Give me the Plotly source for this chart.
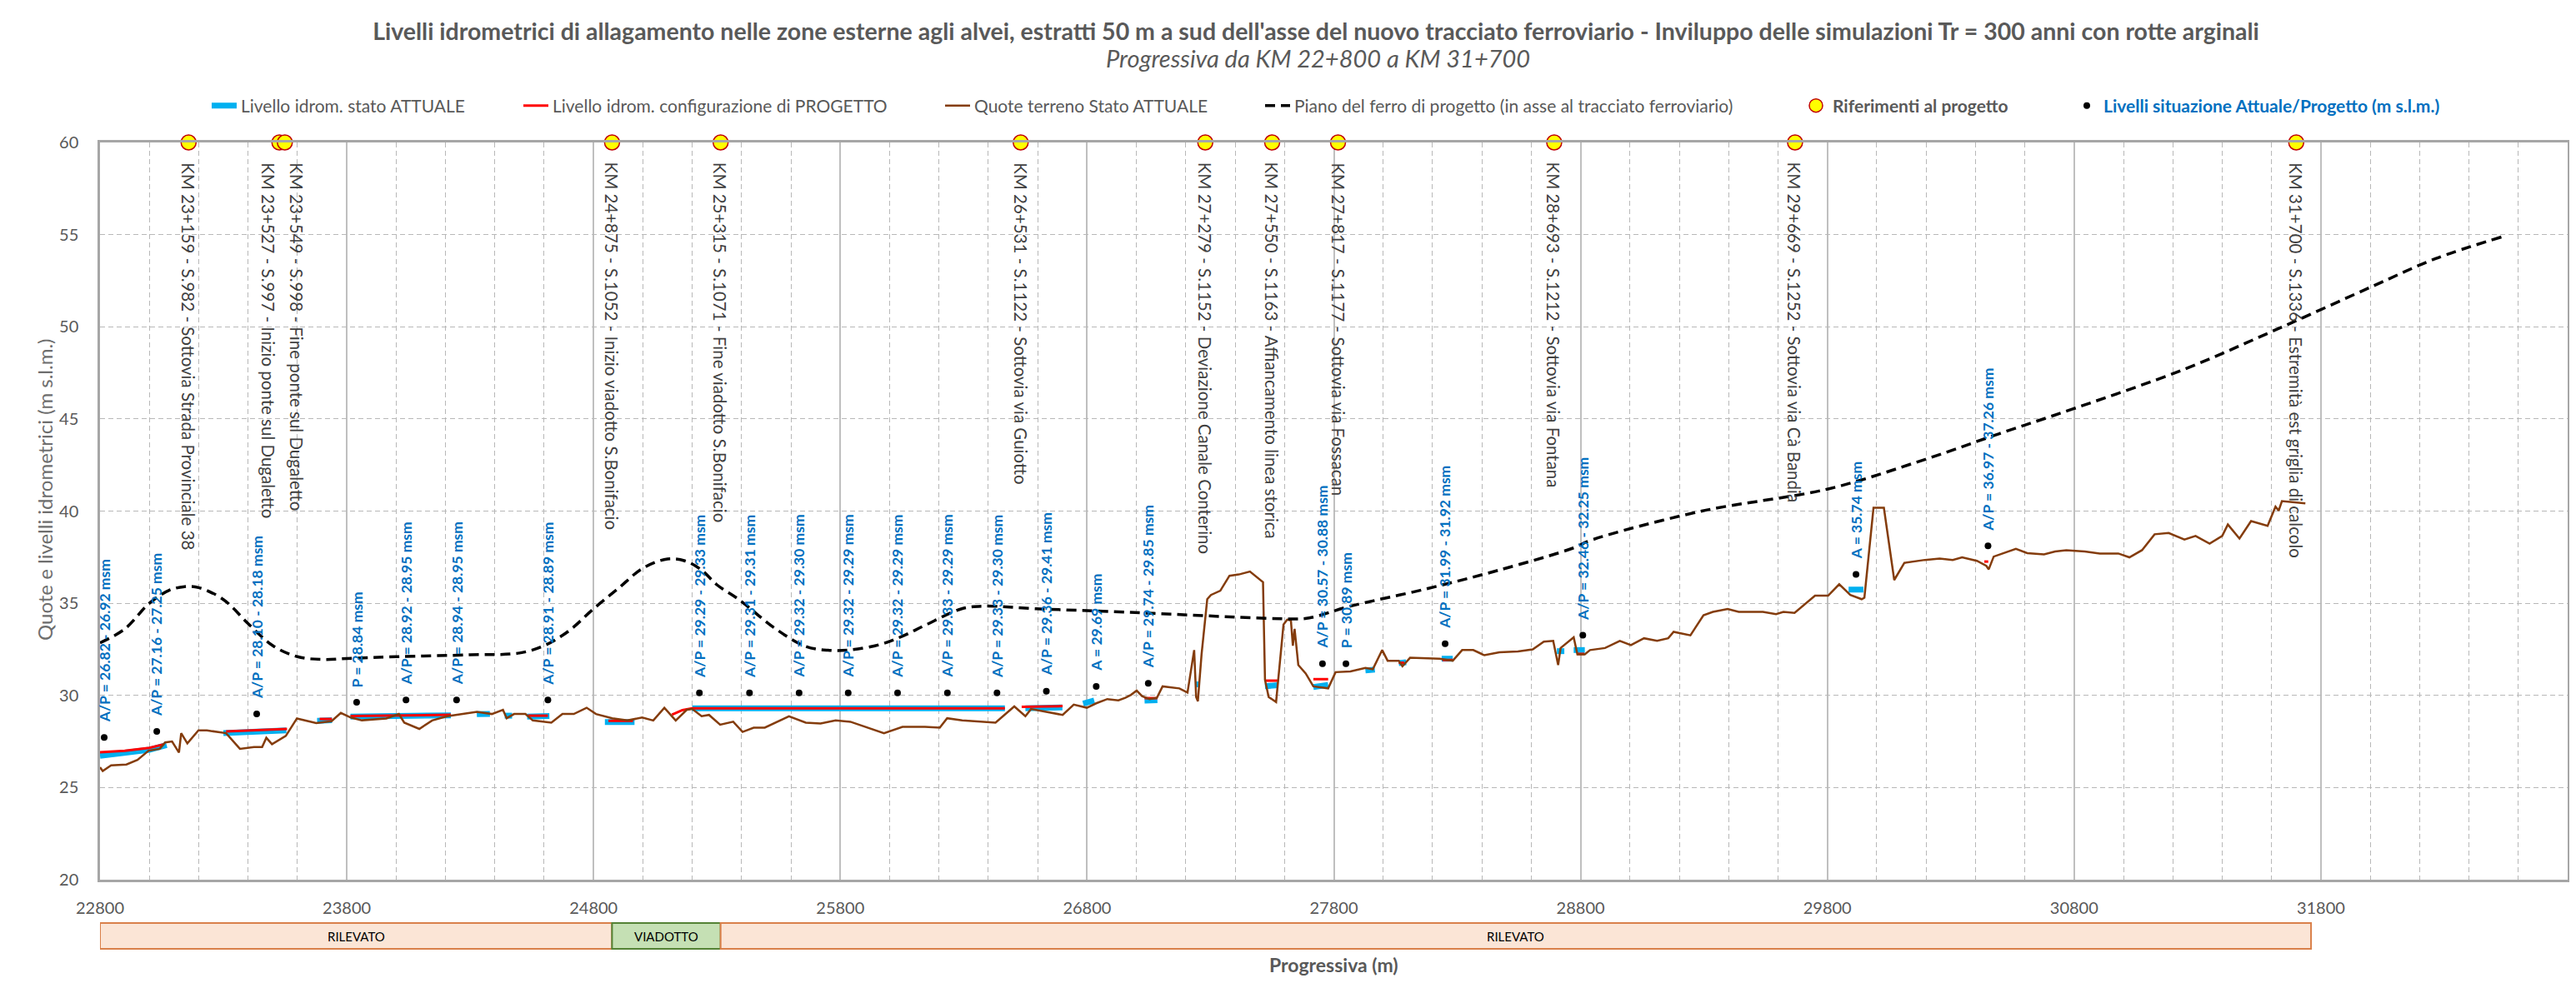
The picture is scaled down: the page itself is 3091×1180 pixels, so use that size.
import plotly.graph_objects as go

# ---------------- DATA ----------------
x_ticks = [22800, 23800, 24800, 25800, 26800, 27800, 28800, 29800, 30800, 31800, 32800]
y_ticks = [20, 25, 30, 35, 40, 45, 50, 55, 60]

# Quote terreno Stato ATTUALE
terrain_x = [22800, 22811, 22845, 22907, 22952, 22997, 23042, 23064, 23092, 23120, 23129, 23154, 23199, 23233,
             23311, 23367, 23424, 23457, 23474, 23497, 23553, 23598, 23676, 23738, 23776, 23816, 23861, 23960,
             24011, 24033, 24094, 24146, 24207, 24267, 24327, 24388, 24433, 24448, 24478, 24524, 24554, 24629,
             24674, 24720, 24772, 24810, 24876, 24937, 24997, 25042, 25087, 25133, 25178, 25200, 25238, 25268,
             25313, 25366, 25404, 25449, 25494, 25592, 25660, 25720, 25781, 25841, 25901, 25977, 26052, 26143,
             26203, 26233, 26294, 26369, 26429, 26505, 26550, 26573, 26641, 26701, 26746, 26799, 26837, 26882,
             26927, 26955, 26978, 27001, 27023, 27053, 27083, 27106, 27174, 27207, 27234, 27242, 27249, 27264,
             27287, 27302, 27340, 27377, 27415, 27460, 27513, 27521, 27536, 27566, 27596, 27611, 27626, 27634,
             27641, 27656, 27686, 27717, 27777, 27807, 27867, 27928, 27958, 27996, 28018, 28063, 28078, 28109,
             28229, 28282, 28320, 28365, 28410, 28471, 28546, 28606, 28651, 28689, 28709, 28719, 28772, 28787,
             28817, 28838, 28899, 28959, 29004, 29057, 29110, 29155, 29177, 29245, 29298, 29336, 29396, 29441,
             29539, 29592, 29622, 29667, 29750, 29803, 29848, 29893, 29939, 29950, 29987, 30029, 30071, 30112,
             30195, 30255, 30308, 30346, 30406, 30444, 30454, 30474, 30564, 30610, 30678, 30723, 30768, 30843,
             30904, 30979, 31024, 31075, 31126, 31183, 31247, 31292, 31349, 31400, 31423, 31470, 31517, 31584,
             31616, 31629, 31642, 31680, 31737]
terrain_y = [26.1, 25.9, 26.2, 26.25, 26.5, 27.0, 27.1, 27.45, 27.5, 26.9, 27.95, 27.4, 28.1, 28.1,
             27.95, 27.1, 27.2, 27.2, 27.7, 27.35, 27.8, 28.75, 28.5, 28.6, 29.05, 28.8, 28.65, 28.75,
             28.99, 28.52, 28.18, 28.64, 28.87, 28.99, 29.11, 28.99, 29.22, 28.76, 28.99, 28.99, 28.64, 28.52,
             28.99, 28.99, 29.33, 28.99, 28.76, 28.64, 28.80, 28.64, 29.33, 28.64, 29.22, 29.26, 28.87, 28.94,
             28.41, 28.57, 28.02, 28.25, 28.25, 28.87, 28.52, 28.48, 28.64, 28.57, 28.29, 27.95, 28.29, 28.29,
             28.25, 28.76, 28.64, 28.57, 28.52, 29.40, 28.87, 29.26, 29.10, 28.94, 29.50, 29.33, 29.57, 29.80,
             29.73, 29.87, 30.03, 30.26, 29.96, 29.80, 29.87, 30.49, 30.38, 30.15, 32.46, 29.91, 29.68, 32.23,
             35.22, 35.45, 35.68, 36.49, 36.56, 36.72, 36.14, 30.84, 29.91, 29.64, 33.84, 34.11, 34.07, 32.69,
             33.61, 31.65, 31.19, 30.49, 30.38, 31.26, 31.30, 31.49, 31.42, 32.46, 31.88, 31.88, 31.58, 32.04,
             31.99, 31.88, 32.46, 32.46, 32.18, 32.34, 32.38, 32.50, 32.92, 32.96, 31.65, 32.57, 33.15, 32.23,
             32.23, 32.46, 32.57, 32.96, 32.73, 33.10, 32.96, 33.10, 33.45, 33.26, 34.35, 34.53, 34.69, 34.53,
             34.53, 34.41, 34.53, 34.48, 35.41, 35.41, 36.03, 35.45, 35.22, 35.30, 40.18, 40.18, 36.26, 37.19,
             37.35, 37.42, 37.35, 37.49, 37.30, 37.03, 36.84, 37.53, 37.95, 37.72, 37.65, 37.81, 37.88, 37.81,
             37.70, 37.70, 37.49, 37.88, 38.74, 38.81, 38.46, 38.65, 38.23, 38.65, 39.27, 38.51, 39.46, 39.20,
             40.24, 40.03, 40.54, 40.49, 40.42]

# Piano del ferro di progetto
rail_x = [22800, 22900, 23000, 23080, 23143, 23200, 23300, 23400, 23500, 23600, 23700, 23800, 24000, 24300,
          24500, 24600, 24700, 24800, 24900, 25000, 25100, 25170, 25238, 25300, 25389, 25539, 25661, 25750,
          25841, 25961, 26050, 26143, 26292, 26383, 26595, 26897, 27150, 27400, 27626, 27700, 27867, 28169,
          28470, 28771, 28838, 29291, 29803, 30195, 30497, 30797, 31247, 31628, 32010, 32265, 32539]
rail_y = [32.85, 33.6, 35.0, 35.7, 35.9, 35.85, 35.2, 33.9, 32.7, 32.1, 31.95, 32.0, 32.1, 32.2,
          32.3, 32.7, 33.5, 34.7, 35.8, 36.9, 37.4, 37.3, 36.8, 36.0, 35.2, 33.6, 32.65, 32.45,
          32.47, 32.76, 33.2, 33.8, 34.7, 34.84, 34.7, 34.55, 34.4, 34.25, 34.15, 34.2, 34.84, 35.76,
          36.8, 38.0, 38.4, 40.0, 41.2, 42.8, 44.2, 45.55, 47.7, 49.9, 52.2, 53.7, 54.9]

# Livello idrometrico stato ATTUALE (None = interruzione)
att_x = [22800, 22900, 23000, 23070, None, 23300, 23555, None, 23680, 23740, None, 23815, 24000, 24222, None,
         24327, 24380, None, 24440, 24470, None, 24531, 24621, None, 24846, 24966, None, 25200, 26467, None,
         26550, 26700, None, 26784, 26829, None, 27033, 27085, None, 27238, 27254, None, 27521, 27574, None,
         27717, 27777, None, 27928, 27966, None, 28063, 28093, None, 28237, 28282, None, 28704, 28734, None,
         28772, 28817, None, 29886, 29946]
att_y = [26.72, 26.85, 27.05, 27.3, None, 27.95, 28.1, None, 28.62, 28.65, None, 28.85, 28.9, 28.92, None,
         28.98, 29.0, None, 28.9, 28.9, None, 28.85, 28.88, None, 28.55, 28.55, None, 29.3, 29.3, None,
         29.3, 29.35, None, 29.55, 29.72, None, 29.72, 29.74, None, 30.6, 30.6, None, 30.5, 30.55, None,
         30.45, 30.57, None, 31.35, 31.4, None, 31.75, 31.8, None, 31.99, 31.99, None, 32.4, 32.4, None,
         32.46, 32.46, None, 35.74, 35.74]

# Livello idrometrico configurazione di PROGETTO
prog_x = [22800, 22900, 23000, 23060, None, 23311, 23558, None, 23690, 23740, None, 23815, 24222, None,
          24535, 24615, None, 24860, 24960, None, 25118, 25160, 25200, 26467, None, 26535, 26701, None,
          27033, 27085, None, 27521, 27574, None, 27717, 27777, None, 28063, 28085, None, 28240, 28282, None,
          28785, 28815, None, 30436, 30452]
prog_y = [26.92, 27.0, 27.15, 27.35, None, 28.05, 28.18, None, 28.72, 28.72, None, 28.88, 28.95, None,
          28.9, 28.9, None, 28.62, 28.62, None, 28.95, 29.2, 29.3, 29.3, None, 29.38, 29.42, None,
          29.85, 29.85, None, 30.8, 30.8, None, 30.88, 30.88, None, 31.77, 31.77, None, 31.92, 31.92, None,
          32.25, 32.25, None, 37.26, 37.26]

# Livelli situazione Attuale/Progetto (punti + etichette)
lev_x = [22817, 23030, 23435, 23840, 24040, 24245, 24615, 25229, 25432, 25633, 25832, 26032, 26234, 26435,
         26635, 26837, 27048, 27754, 27849, 28251, 28809, 29916, 30451]
lev_y = [27.72, 28.05, 28.99, 29.63, 29.75, 29.75, 29.75, 30.14, 30.14, 30.14, 30.14, 30.14, 30.14, 30.14,
         30.23, 30.49, 30.65, 31.72, 31.72, 32.8, 33.26, 36.56, 38.11]
lev_labels = ["A/P = 26.82 - 26.92 msm", "A/P = 27.16 - 27.25 msm", "A/P = 28.10 - 28.18 msm", "P = 28.84 msm",
              "A/P = 28.92 - 28.95 msm", "A/P = 28.94 - 28.95 msm", "A/P = 28.91 - 28.89 msm",
              "A/P = 29.29 - 29.33 msm", "A/P = 29.31 - 29.31 msm", "A/P = 29.32 - 29.30 msm",
              "A/P = 29.32 - 29.29 msm", "A/P = 29.32 - 29.29 msm", "A/P = 29.33 - 29.29 msm",
              "A/P = 29.33 - 29.30 msm", "A/P = 29.36 - 29.41 msm", "A = 29.69 msm", "A/P = 29.74 - 29.85 msm",
              "A/P = 30.57 - 30.88 msm", "P = 30.89 msm", "A/P = 31.99 - 31.92 msm", "A/P = 32.46 - 32.25 msm",
              "A = 35.74 msm", "A/P = 36.97 - 37.26 msm"]

# Riferimenti al progetto
ref_x = [23159, 23527, 23549, 24875, 25315, 26531, 27279, 27550, 27817, 28693, 29669, 31700]
ref_y = [60] * len(ref_x)
ref_labels = ["KM 23+159 - S.982 - Sottovia Strada Provinciale 38",
              "KM 23+527 - S.997 - Inizio ponte sul Dugaletto",
              "KM 23+549 - S.998 - Fine ponte sul Dugaletto",
              "KM 24+875 - S.1052 - Inizio viadotto S.Bonifacio",
              "KM 25+315 - S.1071 - Fine viadotto S.Bonifacio",
              "KM 26+531 - S.1122 - Sottovia via Guiotto",
              "KM 27+279 - S.1152 - Deviazione Canale Conterino",
              "KM 27+550 - S.1163 - Affiancamento linea storica",
              "KM 27+817 - S.1177 - Sottovia via Fossacan",
              "KM 28+693 - S.1212 - Sottovia via Fontana",
              "KM 29+669 - S.1252 - Sottovia via Cà Bandia",
              "KM 31+700 - S.1336 - Estremità est griglia di calcolo"]

# Tratti opera
band_start = [22800, 24875, 25315]
band_end = [24875, 25315, 31760]
band_labels = ["RILEVATO", "VIADOTTO", "RILEVATO"]

# ---------------- STYLE / LAYOUT ----------------
F = "Lato"
GRAY = "#595959"
W, H = 3091, 1180
L, R, T, B = 112, 3073, 163, 1048


def xp(px):
    return (px - L) / (R - L)


def yp(py):
    return (B - py) / (B - T)


ref_dx = [0, -13, 14, 0, 0, 0, 0, 0, 0, 0, 0, 0]

fig = go.Figure()
fig.add_trace(go.Scatter(x=att_x, y=att_y, mode="lines", name="Livello idrom. stato ATTUALE",
                         line=dict(color="#00B0F0", width=7), legend="legend", connectgaps=False))
fig.add_trace(go.Scatter(x=prog_x, y=prog_y, mode="lines", name="Livello idrom. configurazione di PROGETTO",
                         line=dict(color="#FF0000", width=3), legend="legend2", connectgaps=False))
fig.add_trace(go.Scatter(x=terrain_x, y=terrain_y, mode="lines", name="Quote terreno Stato ATTUALE",
                         line=dict(color="#843C0C", width=2.5), legend="legend3"))
fig.add_trace(go.Scatter(x=rail_x, y=rail_y, mode="lines", line_shape="spline",
                         name="Piano del ferro di progetto (in asse al tracciato ferroviario)",
                         line=dict(color="black", width=3.5, dash="12px,7px"), legend="legend4"))
fig.add_trace(go.Scatter(x=ref_x, y=ref_y, mode="markers", name="<b>Riferimenti al progetto</b>",
                         marker=dict(symbol="circle", size=18, color="#FFFF00", line=dict(color="#C00000", width=1.5)),
                         cliponaxis=False, legend="legend5"))
fig.add_trace(go.Scatter(x=lev_x, y=lev_y, mode="markers",
                         name="<b><span style='color:#0070C0'>Livelli situazione Attuale/Progetto (m s.l.m.)</span></b>",
                         marker=dict(color="black", size=8), legend="legend6"))

annotations = []
for x, lab, dx in zip(ref_x, ref_labels, ref_dx):
    annotations.append(dict(x=x, y=1, xref="x", yref="paper", text=lab, textangle=90, showarrow=False,
                            xanchor="center", yanchor="top", yshift=-22, xshift=dx,
                            font=dict(family=F, size=20.5, color="#404040")))
for x, y, lab in zip(lev_x, lev_y, lev_labels):
    annotations.append(dict(x=x, y=y, xref="x", yref="y", text="<b>" + lab + "</b>", textangle=-90,
                            showarrow=False, xanchor="center", yanchor="bottom", yshift=16,
                            font=dict(family=F, size=17.5, color="#0070C0")))

band_y0, band_y1 = yp(1131), yp(1100)
shapes = []
for s, e, lab in zip(band_start, band_end, band_labels):
    viad = lab == "VIADOTTO"
    shapes.append(dict(type="rect", xref="x", yref="paper", x0=s, x1=e, y0=band_y0, y1=band_y1,
                       fillcolor="#C5E0B4" if viad else "#FBE5D6",
                       line=dict(color="#548235" if viad else "#D9804A", width=2), layer="above"))
    annotations.append(dict(x=(s + e) / 2, y=(band_y0 + band_y1) / 2, xref="x", yref="paper", text=lab,
                            showarrow=False, xanchor="center", yanchor="middle",
                            font=dict(family=F, size=15, color="black")))

annotations.append(dict(x=xp(1573), y=yp(61), xref="paper", yref="paper",
                        text="<i>Progressiva da KM 22+800 a KM 31+700</i>", showarrow=False,
                        xanchor="center", yanchor="middle", font=dict(family=F, size=29, color=GRAY)))
annotations.append(dict(x=0.5, y=yp(1150), xref="paper", yref="paper", text="<b>Progressiva (m)</b>",
                        showarrow=False, xanchor="center", yanchor="middle",
                        font=dict(family=F, size=23, color=GRAY)))
annotations.append(dict(x=xp(45), y=yp(580), xref="paper", yref="paper",
                        text="Quote e livelli idrometrici (m s.l.m.)", textangle=-90,
                        showarrow=False, xanchor="center", yanchor="middle",
                        font=dict(family=F, size=24, color="#6E6E6E")))

legend_text_px = [286, 660, 1166, 1550, 2196, 2521]
leg_common = dict(orientation="h", xanchor="left", yanchor="middle", y=yp(119),
                  bgcolor="rgba(0,0,0,0)", font=dict(family=F, size=21, color=GRAY))
legends = {}
for i, tx in enumerate(legend_text_px):
    key = "legend" if i == 0 else "legend%d" % (i + 1)
    legends[key] = dict(leg_common, x=xp(tx - 45))

fig.update_layout(
    width=W, height=H,
    margin=dict(l=L, r=W - R, t=T, b=H - B, autoexpand=False),
    paper_bgcolor="white", plot_bgcolor="white",
    title=dict(text="<b>Livelli idrometrici di allagamento nelle zone esterne agli alvei, estratti 50 m a sud dell'asse del nuovo tracciato ferroviario - Inviluppo delle simulazioni Tr = 300 anni con rotte arginali</b>",
               x=xp(1571), xref="paper", xanchor="center", y=1 - 30 / H, yanchor="middle",
               font=dict(family=F, size=28.5, color=GRAY)),
    showlegend=True,
    xaxis=dict(range=[22800, 32800], tickvals=x_ticks, ticktext=[str(v) for v in x_ticks],
               showgrid=True, gridcolor="#BFBFBF", gridwidth=1.5,
               minor=dict(dtick=200, tick0=22800, showgrid=True, gridcolor="#B8B8B8", griddash="6px,4px",
                          gridwidth=1.4),
               showline=True, linecolor="#A6A6A6", linewidth=2.5, mirror=True, ticks="",
               tickfont=dict(family=F, size=20, color=GRAY), ticklabelstandoff=14, zeroline=False,
               automargin=False),
    yaxis=dict(range=[20, 60], tickvals=y_ticks, showgrid=True, gridcolor="#B8B8B8", griddash="6px,4px",
               gridwidth=1.4,
               showline=True, linecolor="#A6A6A6", linewidth=2.5, mirror=True, ticks="",
               tickfont=dict(family=F, size=20, color=GRAY), ticklabelstandoff=19, zeroline=False,
               automargin=False),
    annotations=annotations, shapes=shapes,
    **legends,
)

fig.write_html("out.html")
